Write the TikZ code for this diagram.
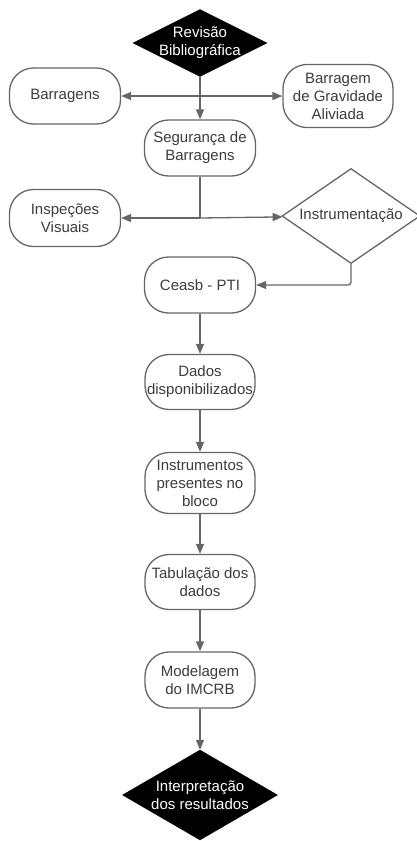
\documentclass[tikz,border=0pt]{standalone}
\usepackage{fontspec}
\setmainfont{Liberation Sans}
\usetikzlibrary{shapes.geometric,arrows.meta}
\definecolor{linegray}{HTML}{666666}
\definecolor{textgray}{HTML}{3C3C3C}

\begin{document}
\begin{tikzpicture}[x=1pt,y=-1pt,
        font=\fontsize{15}{18}\selectfont,
        box/.style={draw=linegray,line width=1.3pt,rounded corners=24pt,fill=white,text=textgray,align=center,inner sep=0pt,minimum width=111pt,minimum height=56pt},
        decision/.style={diamond,draw=linegray,line width=1.3pt,fill=white,text=textgray,align=center,inner sep=-30pt},
        terminal/.style={diamond,draw=black,fill=black,text=white,align=center,inner sep=-30pt},
        arr/.style={draw=linegray,line width=1.3pt,-{Triangle[length=10pt,width=8pt]}},
        ln/.style={draw=linegray,line width=1.3pt}]
        \useasboundingbox (0,0) rectangle (417,841);
        \node[terminal,minimum width=134pt,minimum height=67pt] (0) at (200,43){Revisão\\Bibliográfica};
        \node[box] (1) at (65,96){Barragens};
        \node[box,minimum width=110pt,minimum height=63pt] (2) at (338,96){Barragem\\de Gravidade\\Aliviada};
        \node[box] (3) at (200,148){Segurança de\\Barragens};
        \node[box,minimum height=57pt] (4) at (65,218){Inspeções\\Visuais};
        \node[decision,minimum width=138pt,minimum height=95pt] (5) at (351,216){Instrumentação};
        \node[box] (6) at (200,285){Ceasb - PTI};
        \node[box,minimum width=110pt,minimum height=55pt] (7) at (200,382){Dados\\disponibilizados};
        \node[box,minimum width=110pt,minimum height=61pt] (8) at (200,483){Instrumentos\\presentes no\\bloco};
        \node[box,minimum width=110pt,minimum height=55pt] (9) at (200,582){Tabulação dos\\dados};
        \node[box,minimum width=110pt] (10) at (200,680){Modelagem\\do IMCRB};
        \node[terminal,minimum width=155pt,minimum height=90pt] (11) at (200,795){Interpretação\\dos resultados};
        \coordinate (j1) at (200,96);
        \coordinate (j2) at (200,218);
        \draw[ln] (0) -- (j1);
        \draw[arr] (j1) -- (1);
        \draw[arr] (j1) -- (2);
        \draw[arr] (j1) -- (3);
        \draw[ln] (3) -- (j2);
        \draw[arr] (j2) -- (4);
        \draw[arr] (j2) -- (5);
        \draw[arr,rounded corners=3pt] (5.south) |- (6);
        \draw[arr] (6) -- (7);
        \draw[arr] (7) -- (8);
        \draw[arr] (8) -- (9);
        \draw[arr] (9) -- (10);
        \draw[arr] (10) -- (11);
    \end{tikzpicture}
\end{document}
